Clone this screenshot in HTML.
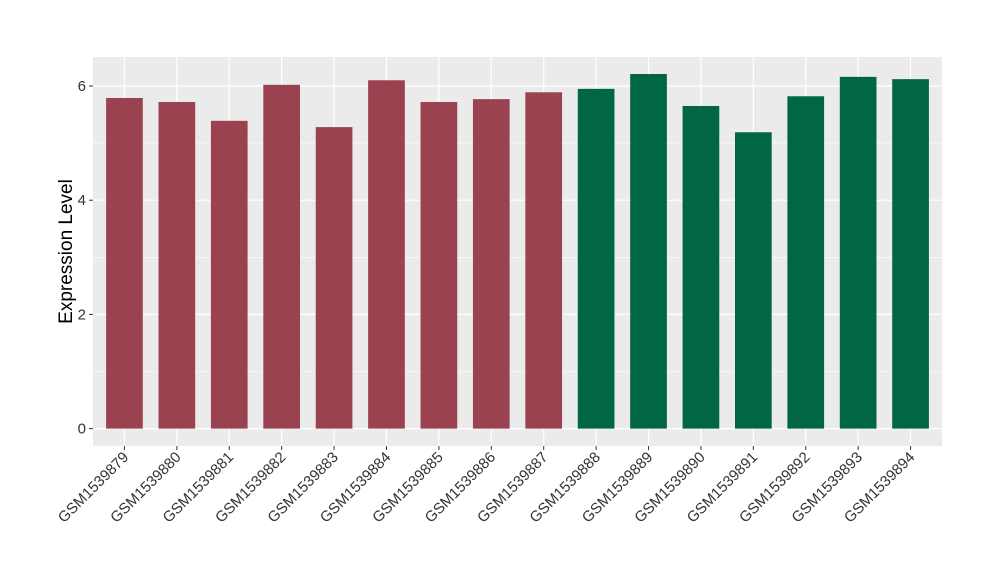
<!DOCTYPE html>
<html><head><meta charset="utf-8"><style>
body{margin:0;background:#fff}
svg{font-family:"Liberation Sans",sans-serif}
</style></head><body>
<svg width="1000" height="580">
<g id="g"></g>
</svg>
<script>
const samples=["GSM1539879","GSM1539880","GSM1539881","GSM1539882","GSM1539883","GSM1539884","GSM1539885","GSM1539886","GSM1539887","GSM1539888","GSM1539889","GSM1539890","GSM1539891","GSM1539892","GSM1539893","GSM1539894"];
const values=[5.79,5.72,5.39,6.02,5.28,6.1,5.72,5.77,5.89,5.95,6.21,5.65,5.19,5.82,6.16,6.12];
const groups=[0,0,0,0,0,0,0,0,0,1,1,1,1,1,1,1];
const yTicks=[0,2,4,6];
const colors=["#9A4250","#006644"];
const NS="http://www.w3.org/2000/svg";
const g=document.getElementById('g');
const L=93,R=942,T=57,B=446;
const y0=428.6,ppu=57.1;
const y=v=>y0-v*ppu;
const step=(R-L)/(samples.length+0.2);
const x=i=>L+step*(0.6+i);
function mk(t,a){const e=document.createElementNS(NS,t);for(const k in a)e.setAttribute(k,a[k]);g.appendChild(e);return e;}
let e=mk('rect',{x:L,y:T,width:R-L,height:B-T,fill:'#EBEBEB'});


for(let v=-1;v<=7;v+=1){const yy=y(v);if(yy<T||yy>B)continue;
 e=mk('line',{x1:L,x2:R,y1:yy,y2:yy,stroke:'#fff','stroke-width':v%2===0?1.2:0.6});
 
 }
samples.forEach((s,i)=>{e=mk('line',{x1:x(i),x2:x(i),y1:T,y2:B,stroke:'#fff','stroke-width':1.2});
 
 });
const bw=step*0.7;
values.forEach((v,i)=>{e=mk('rect',{x:x(i)-bw/2,y:y(v),width:bw,height:y0-y(v),fill:colors[groups[i]]});
 
 });
yTicks.forEach(v=>{mk('line',{x1:L-4,x2:L,y1:y(v),y2:y(v),stroke:'#333','stroke-width':1});
 e=mk('text',{x:L-7,y:y(v)+5,'text-anchor':'end','font-size':15,fill:'#333'});e.textContent=v;
 
 });
samples.forEach((s,i)=>{mk('line',{x1:x(i),x2:x(i),y1:B,y2:B+4,stroke:'#333','stroke-width':1});
 e=mk('text',{x:x(i)+5,y:B+12,'text-anchor':'end','font-size':15,fill:'#333',transform:`rotate(-45 ${x(i)+5} ${B+12})`});e.textContent=s;
 
 });
e=mk('text',{x:72,y:(T+B)/2,'text-anchor':'middle','font-size':19,fill:'#000',transform:`rotate(-90 72 ${(T+B)/2})`});
e.textContent='Expression Level';


</script>
</body></html>
